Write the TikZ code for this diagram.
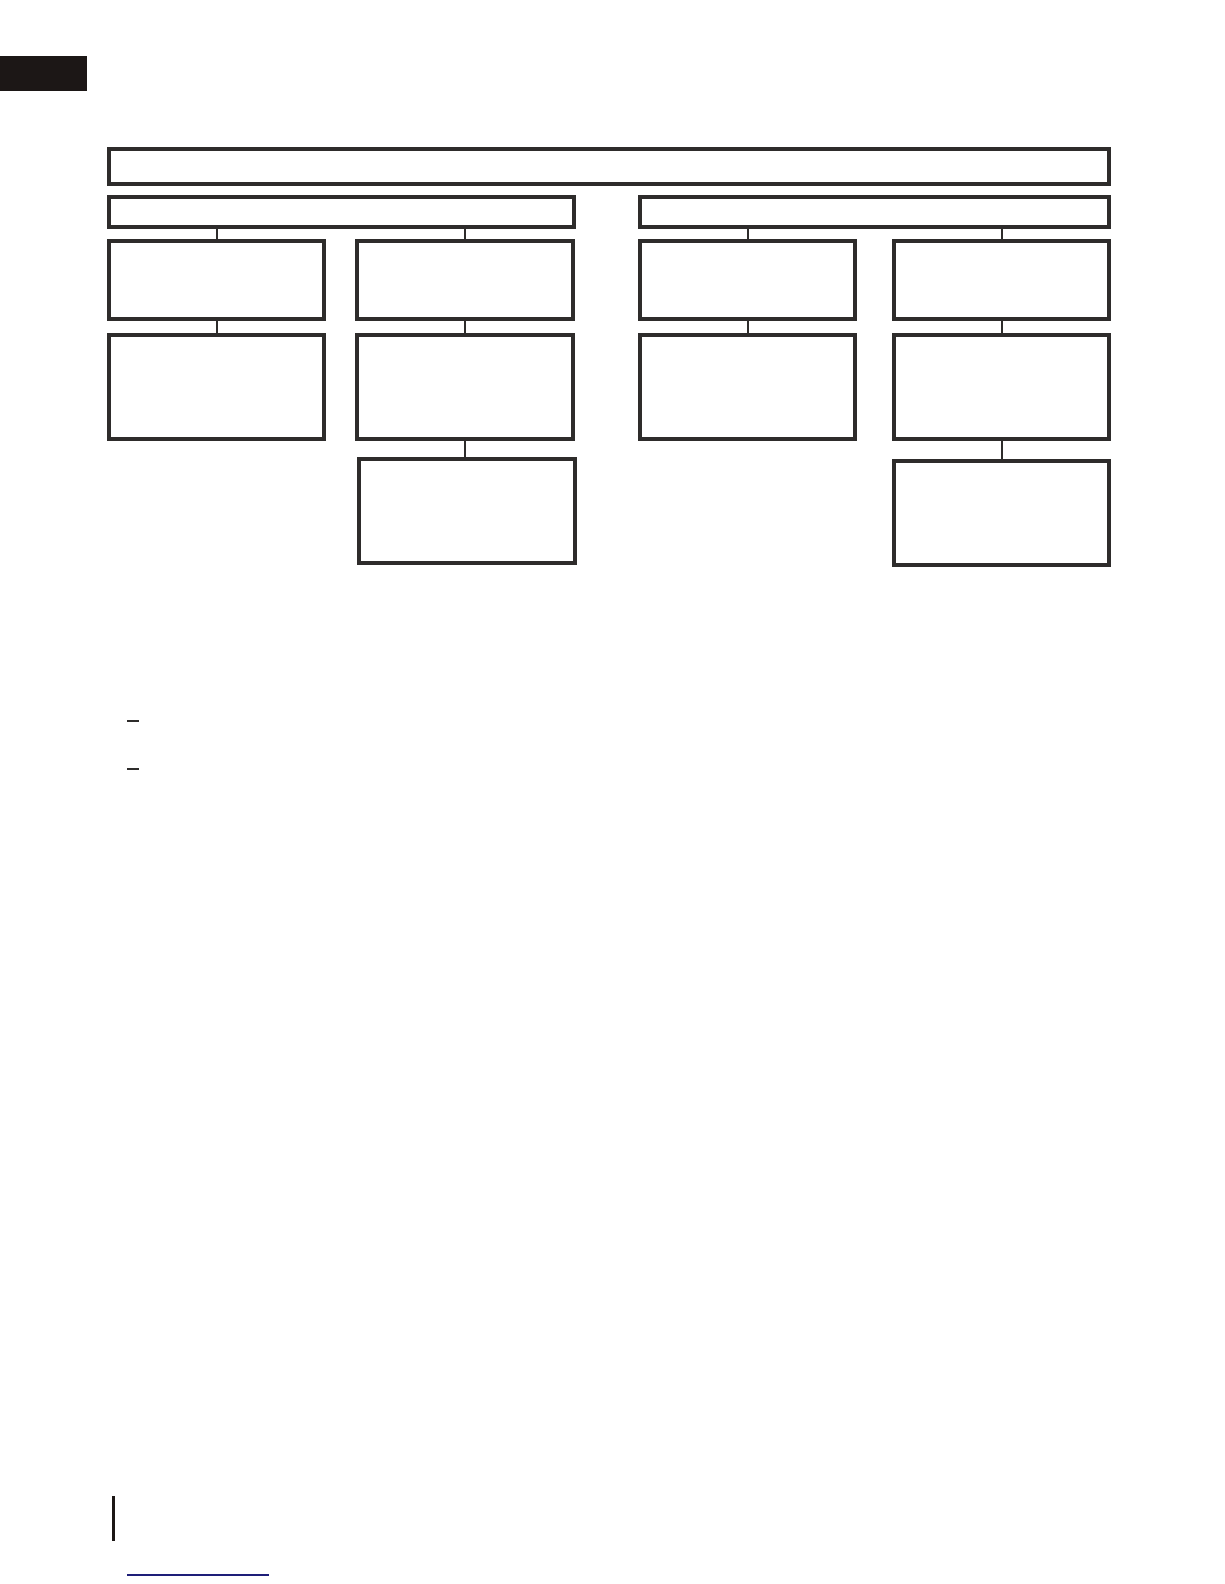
\documentclass[tikz,border=0pt]{standalone}
\definecolor{boxgray}{RGB}{46,44,43}
\definecolor{tabblack}{RGB}{28,23,22}
\definecolor{linkblue}{RGB}{30,30,120}
\tikzset{
  frame/.style={draw=boxgray, line width=4pt, rectangle, inner sep=0pt, fill=white},
  header/.style={frame, minimum height=30pt},
  upper/.style={frame, minimum width=215pt, minimum height=78pt},
  lower/.style={frame, minimum width=215pt, minimum height=104pt},
  link/.style={draw=boxgray, line width=2pt}
}
\begin{document}
\begin{tikzpicture}[x=1pt,y=-1pt]
\useasboundingbox (0,0) rectangle (1224,1584);
% corner tab
\fill[tabblack] (0,56) rectangle (87,91);
% boxes
\node[frame, minimum width=1000pt, minimum height=35pt] (top) at (609,166.5) {};
\node[header, minimum width=465pt] (hl) at (341.5,212) {};
\node[header, minimum width=469pt] (hr) at (874.5,212) {};
\node[upper] (a1) at (216.5,280) {};
\node[lower] (a2) at (216.5,387) {};
\node[upper, minimum width=216pt] (b1) at (465,280) {};
\node[lower, minimum width=216pt] (b2) at (465,387) {};
\node[lower, minimum width=216pt] (b3) at (467,511) {};
\node[upper] (c1) at (747.5,280) {};
\node[lower] (c2) at (747.5,387) {};
\node[upper] (d1) at (1001.5,280) {};
\node[lower] (d2) at (1001.5,387) {};
\node[lower] (d3) at (1001.5,513) {};
% connectors
\draw[link] (a1.north |- hl.south) -- (a1.north);
\draw[link] (a1.south) -- (a2.north);
\draw[link] (b1.north |- hl.south) -- (b1.north);
\draw[link] (b1.south) -- (b2.north);
\draw[link] (b2.south) -- (b2.south |- b3.north);
\draw[link] (c1.north |- hr.south) -- (c1.north);
\draw[link] (c1.south) -- (c2.north);
\draw[link] (d1.north |- hr.south) -- (d1.north);
\draw[link] (d1.south) -- (d2.north);
\draw[link] (d2.south) -- (d3.north);
% small marks
\draw[boxgray, line width=1.5pt] (127,721) -- (139,721);
\draw[boxgray, line width=1.5pt] (127,769) -- (139,769);
\fill[tabblack] (112,1496) rectangle (114.5,1541);
\draw[linkblue, line width=1.5pt] (127,1575) -- (269,1575);
\end{tikzpicture}
\end{document}
